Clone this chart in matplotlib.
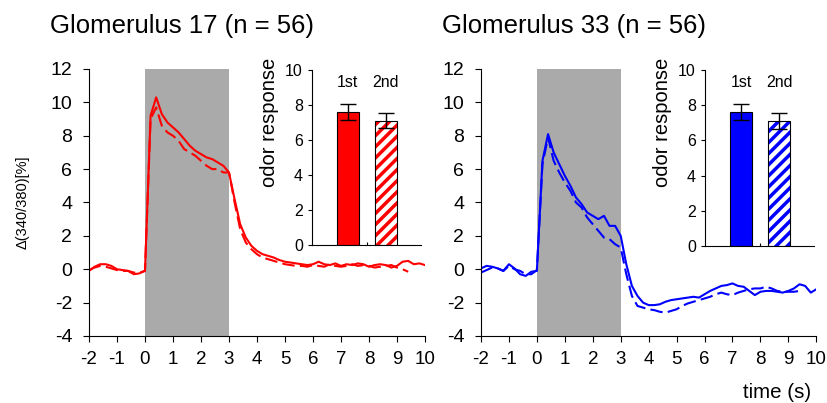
import numpy as np
import matplotlib.pyplot as plt

plt.rcParams['font.family'] = ['Liberation Sans', 'DejaVu Sans']
plt.rcParams['hatch.linewidth'] = 2.5
plt.rcParams['axes.unicode_minus'] = False

# time axis, 0.2 s sampling
time = np.round(np.arange(-2, 10.001, 0.2), 1)

g17_first = [-0.1, 0.15, 0.3, 0.3, 0.2, 0.0, -0.05, -0.1, -0.3, -0.25,
             -0.1, 9.2, 10.3, 9.3, 8.8, 8.5, 8.2, 7.8, 7.4, 7.1,
             6.9, 6.7, 6.6, 6.4, 6.2, 5.8, 4.2, 2.7, 1.9, 1.4,
             1.1, 0.9, 0.8, 0.7, 0.55, 0.45, 0.4, 0.35, 0.3, 0.25,
             0.3, 0.45, 0.3, 0.25, 0.35, 0.2, 0.3, 0.25, 0.35, 0.3,
             0.15, 0.25, 0.3, 0.25, 0.1, 0.2, 0.45, 0.5, 0.3, 0.35,
             0.25]
g17_second = [-0.05, 0.1, 0.2, 0.15, 0.05, -0.05, -0.1, -0.1, -0.2, -0.2,
              -0.1, 9.0, 9.7, 8.6, 8.2, 8.0, 7.7, 7.2, 7.0, 6.8,
              6.5, 6.2, 6.0, 6.0, 5.8, 5.8, 4.0, 2.4, 1.6, 1.2,
              0.9, 0.7, 0.6, 0.5, 0.4, 0.3, 0.25, 0.2, 0.2, 0.15,
              0.25, 0.2, 0.15, 0.3, 0.2, 0.15, 0.2, 0.3, 0.2, 0.25,
              0.2, 0.1, 0.15, 0.2, 0.25, 0.1, 0.0, -0.15, np.nan, np.nan,
              np.nan]
g33_first = [0.05, 0.2, 0.15, 0.05, -0.1, 0.3, 0.05, -0.3, -0.4, -0.15,
             -0.1, 6.5, 8.1, 7.0, 6.3, 5.6, 5.0, 4.3, 3.9, 3.4,
             3.2, 3.0, 3.2, 2.6, 2.6, 2.0, 0.3, -1.0, -1.6, -2.0,
             -2.15, -2.15, -2.1, -1.95, -1.85, -1.8, -1.75, -1.7, -1.65, -1.7,
             -1.5, -1.3, -1.15, -1.0, -0.95, -0.85, -1.0, -1.05, -1.3, -1.55,
             -1.35, -1.3, -1.3, -1.35, -1.4, -1.3, -1.15, -0.9, -1.0, -1.4,
             -1.2]
g33_second = [-0.2, -0.05, 0.1, 0.05, -0.1, 0.2, 0.0, -0.1, -0.3, -0.3,
              -0.05, 6.3, 7.9, 6.5, 5.8, 5.2, 4.7, 4.0, 3.7, 3.1,
              2.7, 2.3, 1.9, 1.8, 1.5, 1.3, -0.3, -1.6, -2.2, -2.3,
              -2.4, -2.45, -2.55, -2.6, -2.5, -2.4, -2.2, -2.05, -1.95, -1.85,
              -1.75, -1.65, -1.5, -1.4, -1.5, -1.55, -1.4, -1.3, -1.2, -1.15,
              -1.15, -1.05, -1.15, -1.3, -1.35, -1.35, -1.35, -1.3, np.nan, np.nan,
              np.nan]

bar_labels = ['1st', '2nd']
g17_bar = [7.6, 7.1]
g17_err = [0.45, 0.43]
g33_bar = [7.6, 7.1]
g33_err = [0.45, 0.43]

panels = [
    ('Glomerulus 17 (n = 56)', g17_first, g17_second, g17_bar, g17_err, '#ff0000',
     [0.1076, 0.1663, 0.4063, 0.6625], [0.377, 0.392, 0.132, 0.434]),
    ('Glomerulus 33 (n = 56)', g33_first, g33_second, g33_bar, g33_err, '#0000ff',
     [0.5816, 0.1663, 0.4055, 0.6625], [0.8525, 0.3896, 0.1318, 0.4367]),
]

fig = plt.figure(figsize=(8.27, 4.03), dpi=100)

for i, (title, first, second, bars, errs, color, main_pos, inset_pos) in enumerate(panels):
    ax = fig.add_axes(main_pos)
    ax.axvspan(0, 3, color='#aaaaaa', lw=0, zorder=0)
    ax.plot(time, first, color=color, lw=1.5, zorder=2)
    ax.plot(time, second, color=color, lw=1.5, dashes=(6, 2.5), zorder=2)
    ax.set_xlim(-2, 10)
    ax.set_ylim(-4, 12)
    ax.set_xticks(range(-2, 11))
    ax.set_yticks(range(-4, 13, 2))
    ax.spines[['top', 'right']].set_visible(False)
    ax.tick_params(length=4, width=0.8, direction='out')
    ax.tick_params(axis='y', labelsize=14, pad=8)
    ax.tick_params(axis='x', labelsize=13.5, pad=7)
    ax.text(-0.116, 1.16, title, transform=ax.transAxes, fontsize=18.5, ha='left', va='center')
    if i == 0:
        ax.set_ylabel('Δ(340/380)[%]', fontsize=10.5, labelpad=15)
    else:
        ax.text(0.985, -0.212, 'time (s)', transform=ax.transAxes, fontsize=14.8, ha='right', va='center')

    # inset bar chart of the two responses
    ins = fig.add_axes(inset_pos)
    pos = [0, 1]
    ins.bar(pos[0], bars[0], width=0.56, color=color, edgecolor='black', lw=0.8)
    ins.bar(pos[1], bars[1], width=0.56, color='white', edgecolor=color, hatch='///', lw=0)
    ins.bar(pos[1], bars[1], width=0.56, fill=False, edgecolor='black', lw=0.8)
    ins.errorbar(pos, bars, yerr=errs, fmt='none', ecolor='black', elinewidth=1, capsize=6, capthick=1)
    for p, lab in zip(pos, bar_labels):
        ins.text(p, 9.3, lab, ha='center', va='center', fontsize=11.5)
    ins.set_xlim(-0.95, 1.92)
    ins.set_ylim(0, 10)
    ins.set_yticks(range(0, 11, 2))
    ins.set_xticks([0.5])
    ins.set_xticklabels([])
    ins.tick_params(axis='x', direction='in', length=2)
    ins.tick_params(axis='y', labelsize=11.5, length=3, width=0.8)
    ins.spines[['top', 'right']].set_visible(False)
    ins.patch.set_alpha(0)
    ins.set_ylabel('odor response', fontsize=14.5, labelpad=4)
    ins.yaxis.set_label_coords(-0.3, 0.7)

fig.savefig('out.png', dpi=100)
